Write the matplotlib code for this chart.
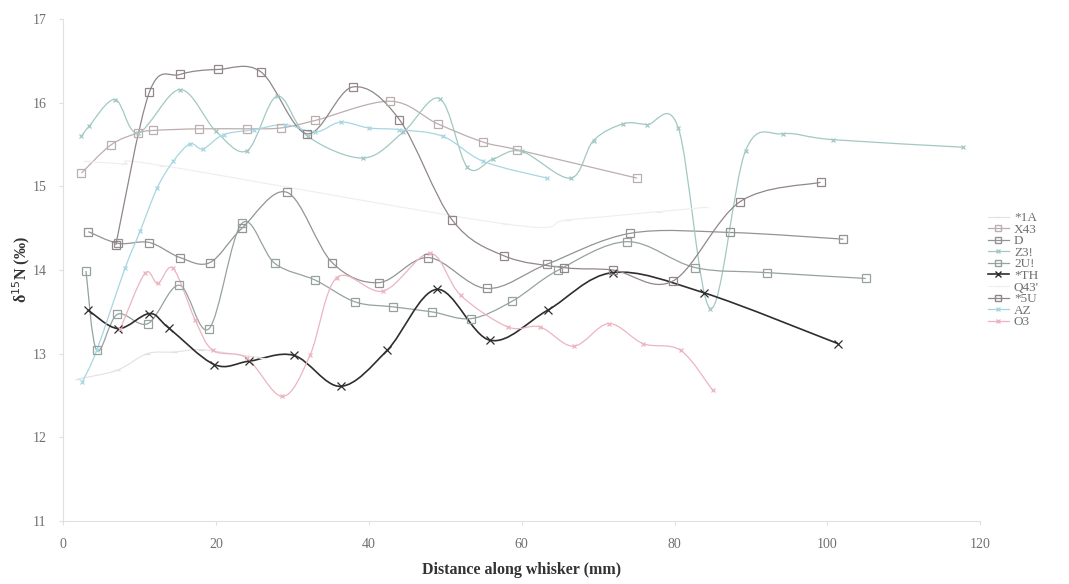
import matplotlib.pyplot as plt
from matplotlib.path import Path
from matplotlib.patches import PathPatch
from matplotlib.lines import Line2D
import numpy as np

# whisker profiles: distance along whisker (mm) and d15N (permil)
x_1a = [2.0, 7.0, 11.0, 14.5, 18.0, 22.0, 26.0]
y_1a = [12.7, 12.8, 13.0, 13.02, 13.05, 13.0, 12.95]

x_x43 = [2.4, 6.3, 9.8, 11.8, 17.8, 24.1, 28.5, 33.0, 42.8, 49.0, 55.0, 59.4, 75.1]
y_x43 = [15.16, 15.5, 15.64, 15.67, 15.69, 15.69, 15.7, 15.79, 16.02, 15.75, 15.53, 15.44, 15.1]

x_d = [3.3, 7.2, 11.3, 15.3, 19.2, 23.4, 29.3, 35.2, 41.3, 47.8, 55.4, 63.3, 74.2, 87.3, 102.1]
y_d = [14.46, 14.32, 14.33, 14.15, 14.09, 14.5, 14.93, 14.09, 13.85, 14.15, 13.78, 14.07, 14.44, 14.45, 14.37]

x_z3 = [2.4, 3.4, 6.8, 9.8, 15.3, 20.0, 24.1, 28.0, 32.0, 39.3, 44.5, 49.3, 52.9, 56.3, 60.0,
        66.4, 69.4, 73.3, 76.4, 80.5, 84.7, 89.3, 94.2, 100.7, 117.7]
y_z3 = [15.6, 15.72, 16.04, 15.64, 16.16, 15.66, 15.43, 16.08, 15.6, 15.34, 15.65, 16.05, 15.23,
        15.33, 15.42, 15.1, 15.55, 15.75, 15.74, 15.7, 13.54, 15.43, 15.63, 15.56, 15.47]

x_2u = [3.0, 4.4, 7.1, 11.1, 15.2, 19.1, 23.4, 27.7, 33.0, 38.2, 43.2, 48.3, 53.4, 58.8, 64.8,
        73.8, 82.7, 92.1, 105.0]
y_2u = [13.99, 13.04, 13.47, 13.36, 13.82, 13.3, 14.56, 14.08, 13.88, 13.62, 13.56, 13.5, 13.42,
        13.63, 14.0, 14.34, 14.03, 13.97, 13.9]

x_th = [3.3, 7.2, 11.3, 13.8, 19.8, 24.3, 30.2, 36.3, 42.4, 48.9, 55.9, 63.4, 71.9, 83.8, 101.4]
y_th = [13.52, 13.3, 13.48, 13.31, 12.87, 12.91, 12.98, 12.61, 13.04, 13.77, 13.16, 13.52, 13.97,
        13.73, 13.12]

x_q43 = [3.0, 8.0, 13.0, 58.0, 66.0, 78.0, 84.0]
y_q43 = [15.3, 15.27, 15.25, 14.55, 14.6, 14.7, 14.75]

x_5u = [6.9, 11.3, 15.3, 20.3, 25.9, 31.9, 37.9, 44.0, 50.9, 57.7, 65.5, 72.0, 79.8, 88.6, 99.1]
y_5u = [14.3, 16.13, 16.34, 16.4, 16.37, 15.63, 16.19, 15.8, 14.6, 14.17, 14.03, 14.0, 13.87,
        14.82, 15.05]

x_az = [2.5, 4.4, 8.1, 10.1, 12.3, 14.4, 16.6, 18.3, 21.0, 25.0, 29.0, 33.0, 36.3, 40.0, 44.0,
        49.7, 55.0, 63.3]
y_az = [12.66, 13.04, 14.02, 14.47, 14.98, 15.3, 15.51, 15.45, 15.62, 15.68, 15.74, 15.65, 15.77,
        15.7, 15.68, 15.6, 15.3, 15.1]

x_o3 = [7.5, 10.7, 12.4, 14.4, 17.3, 19.6, 24.0, 28.7, 32.3, 35.8, 41.9, 48.0, 52.0, 58.2, 62.4,
        66.8, 71.4, 75.9, 80.8, 85.0]
y_o3 = [13.3, 13.96, 13.84, 14.02, 13.4, 13.04, 12.95, 12.49, 12.98, 13.91, 13.75, 14.2, 13.7,
        13.32, 13.32, 13.09, 13.36, 13.12, 13.04, 12.56]

labels = ['*1A', 'X43', 'D', 'Z3!', '2U!', '*TH', "Q43'", '*5U', 'AZ', 'O3']
xs = [x_1a, x_x43, x_d, x_z3, x_2u, x_th, x_q43, x_5u, x_az, x_o3]
ys = [y_1a, y_x43, y_d, y_z3, y_2u, y_th, y_q43, y_5u, y_az, y_o3]

styles = [
    dict(color='#e6e0e0', marker='_', ms=4, lw=0.8),
    dict(color='#bcaeae', marker='s', ms=6, lw=0.9),
    dict(color='#939393', marker='s', ms=6, lw=0.9),
    dict(color='#a2c8c4', marker='x', ms=3, lw=0.9),
    dict(color='#96a29e', marker='s', ms=6, lw=0.9),
    dict(color='#2e2e2e', marker='x', ms=6, lw=1.2),
    dict(color='#eeeeee', marker='_', ms=4, lw=0.8),
    dict(color='#918688', marker='s', ms=6, lw=0.9),
    dict(color='#a6d6e2', marker='x', ms=3, lw=0.9),
    dict(color='#ecb4c0', marker='x', ms=3, lw=0.9),
]


def smooth_path(x, y):
    # Catmull-Rom style cubic Bezier through every point
    p = np.column_stack([x, y])
    ext = np.vstack([p[0], p, p[-1]])
    verts = [p[0]]
    codes = [Path.MOVETO]
    for i in range(len(p) - 1):
        p0, p1, p2, p3 = ext[i], ext[i + 1], ext[i + 2], ext[i + 3]
        verts += [p1 + (p2 - p0) / 6, p2 - (p3 - p1) / 6, p2]
        codes += [Path.CURVE4] * 3
    return Path(verts, codes)


plt.rcParams['font.family'] = ['Liberation Serif', 'DejaVu Serif']
fig = plt.figure(figsize=(10.69, 5.84), dpi=100)
ax = fig.add_axes([0.059, 0.108, 0.858, 0.859])

handles = []
for x, y, st, lab in zip(xs, ys, styles, labels):
    ax.add_patch(PathPatch(smooth_path(x, y), facecolor='none', edgecolor=st['color'],
                           lw=st['lw'], zorder=2))
    ax.plot(x, y, linestyle='none', marker=st['marker'], ms=st['ms'], mfc='none',
            mec=st['color'], mew=0.9, zorder=3)
    handles.append(Line2D([], [], color=st['color'], lw=st['lw'], marker=st['marker'],
                          ms=st['ms'] * 0.8, mfc='none', mec=st['color'], label=lab))

ax.set_xlim(0, 120)
ax.set_ylim(11, 17)
ax.set_xticks(range(0, 121, 20))
ax.set_yticks(range(11, 18))
for s in ['top', 'right']:
    ax.spines[s].set_visible(False)
for s in ['left', 'bottom']:
    ax.spines[s].set_color('#e0e0e0')
ax.tick_params(colors='#e0e0e0', labelcolor='#707070', labelsize=10, length=3, pad=9)

ax.set_xlabel('Distance along whisker (mm)', fontsize=11.5, fontweight='bold',
              color='#333333', labelpad=8)
ax.set_ylabel('δ$^{15}$N (‰)', fontsize=11.5, fontweight='bold', color='#333333', labelpad=0)

ax.legend(handles=handles, loc='center left', bbox_to_anchor=(0.995, 0.5), frameon=False,
          fontsize=9.5, handlelength=1.6, handletextpad=0.4, labelspacing=-0.05,
          labelcolor='#707070')

fig.savefig('out.png', dpi=100)
